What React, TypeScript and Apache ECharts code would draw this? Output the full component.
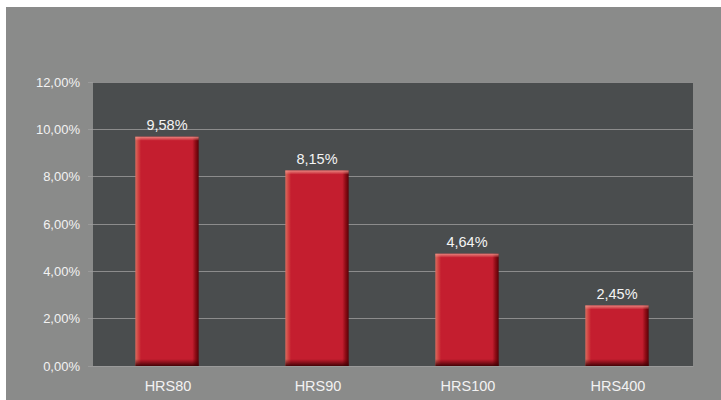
import React, { useEffect, useRef } from "react";
import * as echarts from "echarts";

const categories = ["HRS80", "HRS90", "HRS100", "HRS400"];
const values = [9.58, 8.15, 4.64, 2.45];
const yTicks = { min: 0, max: 12, interval: 2 };

const fmt = (v: number) => v.toFixed(2).replace(".", ",") + "%";
const FONT = "Liberation Sans, Arial, sans-serif";

export default function App() {
  const ref = useRef<HTMLDivElement>(null);
  useEffect(() => {
    const chart = echarts.init(ref.current!, null, { renderer: "svg" });
    chart.setOption({
      animation: false,
      backgroundColor: "#8a8b8a",
      textStyle: { fontFamily: FONT },
      grid: { left: 87, top: 75, width: 600, height: 284, backgroundColor: "#4a4d4e", show: true, borderWidth: 0 },
      xAxis: {
        type: "category",
        data: categories,
        axisLine: { show: true, lineStyle: { color: "#9a9a9a", width: 1 } },
        axisTick: { show: false },
        axisLabel: { color: "#f2f2f2", fontSize: 14.5, margin: 12, fontFamily: FONT },
      },
      yAxis: {
        type: "value",
        min: yTicks.min,
        max: yTicks.max,
        interval: yTicks.interval,
        axisLine: { show: false },
        axisTick: { show: true, length: 5, lineStyle: { color: "#9a9a9a" } },
        axisLabel: { color: "#f2f2f2", fontSize: 13, margin: 13, fontFamily: FONT, formatter: (v: number) => fmt(v) },
        splitLine: { lineStyle: { color: "#8c8c8c", width: 1 } },
      },
      series: [
        {
          type: "custom",
          data: values.map((v, i) => [i, v]),
          renderItem: (params: any, api: any) => {
            const i = api.value(0);
            const v = api.value(1);
            const top = api.coord([i, v]);
            const base = api.coord([i, 0]);
            const bw = api.size([1, 0])[0] * 0.422;
            const cx = top[0] - 1;
            const x = cx - bw / 2;
            const y = top[1] - 2.5;
            const h = base[1] - y;
            return {
              type: "group",
              children: [
                {
                  type: "rect",
                  shape: { x, y, width: bw, height: h },
                  style: {
                    fill: new echarts.graphic.LinearGradient(0, 0, 1, 0, [
                      { offset: 0, color: "#dc6a5e" },
                      { offset: 0.05, color: "#d0403f" },
                      { offset: 0.09, color: "#c41e2f" },
                      { offset: 0.9, color: "#c41e2f" },
                      { offset: 0.95, color: "#8e0c16" },
                      { offset: 1, color: "#5a0006" },
                    ]),
                  },
                },
                {
                  type: "rect",
                  shape: { x, y: base[1] - 7, width: bw, height: 7 },
                  style: {
                    fill: new echarts.graphic.LinearGradient(0, 0, 0, 1, [
                      { offset: 0, color: "rgba(80,0,6,0)" },
                      { offset: 1, color: "rgba(60,0,4,0.95)" },
                    ]),
                  },
                },
                {
                  type: "rect",
                  shape: { x, y, width: bw, height: 4 },
                  style: {
                    fill: new echarts.graphic.LinearGradient(0, 0, 0, 1, [
                      { offset: 0, color: "rgba(240,150,140,0.85)" },
                      { offset: 1, color: "rgba(240,150,140,0)" },
                    ]),
                  },
                },
                {
                  type: "text",
                  x: cx,
                  y: y - 4,
                  style: {
                    text: fmt(v),
                    fill: "#f4f4f4",
                    fontSize: 14.5,
                    fontFamily: FONT,
                    align: "center",
                    verticalAlign: "bottom",
                  },
                },
              ],
            };
          },
        },
      ],
    });
    return () => chart.dispose();
  }, []);
  return (
    <div
      ref={ref}
      style={{ position: "absolute", left: 6, top: 7, width: 715, height: 393 }}
    />
  );
}
